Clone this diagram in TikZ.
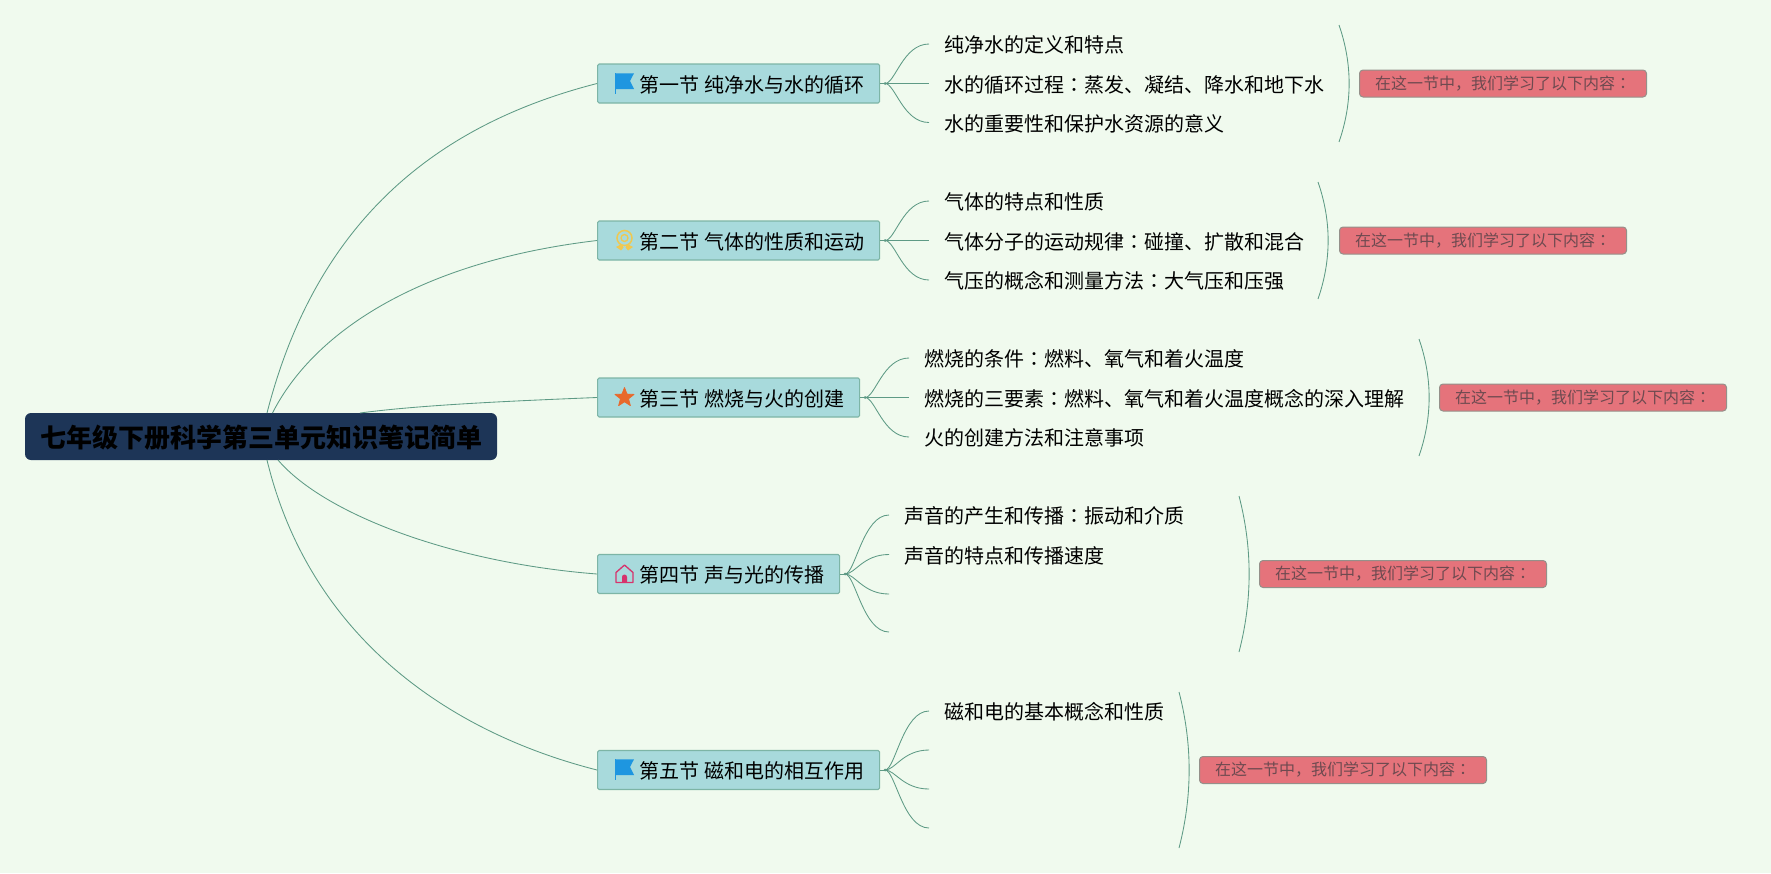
\documentclass[tikz,border=0pt]{standalone}
\usepackage{fontspec}
\setmainfont{Noto Sans CJK SC}
\newfontfamily\tcf{Noto Sans CJK TC}
\newcommand{\cln}{{\tcf ：}}
\newcommand{\wsp}{\hspace{5pt}}
\definecolor{bgc}{HTML}{F0FAEE}
\definecolor{rootc}{HTML}{1D3557}
\definecolor{secc}{HTML}{A8DADC}
\definecolor{secb}{HTML}{7DB5A6}
\definecolor{linkc}{HTML}{5E9A85}
\definecolor{sumc}{HTML}{E5737B}
\definecolor{sumb}{HTML}{95908A}
\definecolor{sumt}{HTML}{6E4A50}
\tikzset{
  x=1pt,y=-1pt,
  rootbox/.style={draw=none,fill=rootc,rounded corners=6pt,minimum width=472pt,minimum height=47pt,inner sep=0pt,text=black,font=\fontsize{26}{30}\selectfont\bfseries,text height=24pt,text depth=2pt},
  secbox/.style={draw=secb,line width=1.1pt,fill=secc,rounded corners=1.5pt,anchor=west,minimum height=39pt,inner ysep=0pt,inner xsep=0pt,text=black,font=\fontsize{20}{24}\selectfont,text height=19pt,text depth=1.5pt},
  leaf/.style={anchor=west,inner sep=0pt,text=black,font=\fontsize{20}{24}\selectfont,text height=19pt,text depth=1.5pt},
  sumbox/.style={draw=sumb,line width=1pt,fill=sumc,rounded corners=3.5pt,anchor=west,minimum height=27pt,inner ysep=0pt,inner xsep=15.5pt,text=sumt,font=\fontsize{16}{20}\selectfont,text height=13pt,text depth=2pt},
  link/.style={draw=linkc,line width=0.85pt},
  jdot/.style={fill=linkc},
  flagicon/.pic={
    \fill[color={rgb,255:red,30;green,150;blue,224}] (-10,-10.7) -- (9,-10.7) -- (5,-3) -- (9,5) -- (-10,5) -- cycle;
    \draw[color={rgb,255:red,30;green,150;blue,224},line width=1pt] (-9.6,-10.7) -- (-9.6,10);
  },
  medalicon/.pic={
    \draw[color={rgb,255:red,240;green,200;blue,80},line width=1.5pt] (0,-2.5) circle[radius=7.5];
    \draw[color={rgb,255:red,240;green,200;blue,80},line width=1.3pt] (0,-2.5) circle[radius=3.5];
    \fill[color={rgb,255:red,240;green,200;blue,80}] (-8.5,6.5) -- (-3,3.5) -- (-1,7) -- (-3.5,10) -- (-5.5,8.5) -- cycle;
    \fill[color={rgb,255:red,240;green,200;blue,80}] (8.5,6.5) -- (3,3.5) -- (1,7) -- (3.5,10) -- (5.5,8.5) -- cycle;
  },
  staricon/.pic={
    \fill[color={rgb,255:red,232;green,105;blue,44},draw={rgb,255:red,232;green,105;blue,44},line join=round,line width=0.8pt]
      (-90:10) -- (-54:4.2) -- (-18:10) -- (18:4.2) -- (54:10) -- (90:4.2) -- (126:10) -- (162:4.2) -- (198:10) -- (234:4.2) -- cycle;
  },
  houseicon/.pic={
    \draw[color={rgb,255:red,214;green,51;blue,108},line width=1.3pt,line join=round] (-8.5,-1.5) -- (0,-9) -- (8.5,-1.5) -- (8.5,8.5) -- (-8.5,8.5) -- cycle;
    \fill[color={rgb,255:red,214;green,51;blue,108}] (-2.5,8.5) -- (-2.5,3) arc[start angle=180,end angle=360,radius=2.5] -- (2.5,8.5) -- cycle;
  }
}
\begin{document}
\begin{tikzpicture}
\useasboundingbox (0,0) rectangle (1771,873);
\fill[bgc] (0,0) rectangle (1771,873);
% root
\node[rootbox] (root) at (261,436.5) {七年级下册科学第三单元知识笔记简单};
% sections
\node[secbox] (s1) at (597,83.5) {\hspace{41.5pt}第一节\wsp 纯净水与水的循环\hspace{15.5pt}\null};
\node[secbox] (s2) at (597,240.5) {\hspace{41.5pt}第二节\wsp 气体的性质和运动\hspace{15.5pt}\null};
\node[secbox] (s3) at (597,397.5) {\hspace{41.5pt}第三节\wsp 燃烧与火的创建\hspace{15.5pt}\null};
\node[secbox] (s4) at (597,574) {\hspace{41.5pt}第四节\wsp 声与光的传播\hspace{15.5pt}\null};
\node[secbox] (s5) at (597,770) {\hspace{41.5pt}第五节\wsp 磁和电的相互作用\hspace{15.5pt}\null};
\pic at (625,84) {flagicon};
\pic at (624.5,240.5) {medalicon};
\pic at (624.5,397.5) {staricon};
\pic at (624.5,574) {houseicon};
\pic at (625,770) {flagicon};
% leaves
\node[leaf] (a1) at (929,44) {\hspace{15.5pt}纯净水的定义和特点};
\node[leaf] (a2) at (929,83.5) {\hspace{15.5pt}水的循环过程\cln 蒸发、凝结、降水和地下水};
\node[leaf] (a3) at (929,122.5) {\hspace{15.5pt}水的重要性和保护水资源的意义};
\node[leaf] (b1) at (929,201) {\hspace{15.5pt}气体的特点和性质};
\node[leaf] (b2) at (929,240.5) {\hspace{15.5pt}气体分子的运动规律\cln 碰撞、扩散和混合};
\node[leaf] (b3) at (929,280) {\hspace{15.5pt}气压的概念和测量方法\cln 大气压和压强};
\node[leaf] (c1) at (909,358) {\hspace{15.5pt}燃烧的条件\cln 燃料、氧气和着火温度};
\node[leaf] (c2) at (909,397.5) {\hspace{15.5pt}燃烧的三要素\cln 燃料、氧气和着火温度概念的深入理解};
\node[leaf] (c3) at (909,437) {\hspace{15.5pt}火的创建方法和注意事项};
\node[leaf] (d1) at (889,515) {\hspace{15.5pt}声音的产生和传播\cln 振动和介质};
\node[leaf] (d2) at (889,554.5) {\hspace{15.5pt}声音的特点和传播速度};
\coordinate (d3) at (889,594);
\coordinate (d4) at (889,632);
\node[leaf] (e1) at (929,711) {\hspace{15.5pt}磁和电的基本概念和性质};
\coordinate (e2) at (929,750);
\coordinate (e3) at (929,789);
\coordinate (e4) at (929,828);
% summaries
\node[sumbox] (u1) at (1359,83.5) {在这一节中，我们学习了以下内容\cln};
\node[sumbox] (u2) at (1339,240.5) {在这一节中，我们学习了以下内容\cln};
\node[sumbox] (u3) at (1439,397.5) {在这一节中，我们学习了以下内容\cln};
\node[sumbox] (u4) at (1259,574) {在这一节中，我们学习了以下内容\cln};
\node[sumbox] (u5) at (1199,770) {在这一节中，我们学习了以下内容\cln};
% root connectors
\coordinate (r1) at (267,413);
\coordinate (r2) at (272.5,413);
\coordinate (r3) at (360,413);
\coordinate (r4) at (278,460);
\coordinate (r5) at (267,460);
\draw[link] (r1) .. controls (316,222) and (435,125) .. (s1.west);
\draw[link] (r2) .. controls (312,335) and (415,262) .. (s2.west);
\draw[link] (r3) .. controls (420,405) and (510,401) .. (s3.west);
\draw[link] (r4) .. controls (325,515) and (455,563) .. (s4.west);
\draw[link] (r5) .. controls (308,630) and (440,730) .. (s5.west);
% section branches
\foreach \s/\list in {s1/{a1,a2,a3},s2/{b1,b2,b3},s3/{c1,c2,c3},s4/{d1,d2,d3,d4},s5/{e1,e2,e3,e4}}{
  \coordinate (j) at ([xshift=5pt]\s.east);
  \draw[link] (\s.east) -- (j);
  \fill[jdot] (j) circle[radius=1.5];
  \foreach \t in \list {
    \draw[link] (j) .. controls +(10,0) and +(-26,0) .. (\t.west);
  }
}
% brackets
\coordinate (k1a) at (1339,25);  \coordinate (k1b) at (1339,142);
\coordinate (k2a) at (1318,182); \coordinate (k2b) at (1318,299);
\coordinate (k3a) at (1419,339); \coordinate (k3b) at (1419,456);
\coordinate (k4a) at (1239,496); \coordinate (k4b) at (1239,652);
\coordinate (k5a) at (1179,692); \coordinate (k5b) at (1179,848);
\foreach \k in {k1,k2,k3}{
  \draw[link] (\k a) .. controls +(13.5,39) and +(13.5,-39) .. (\k b);
}
\foreach \k in {k4,k5}{
  \draw[link] (\k a) .. controls +(13.5,52) and +(13.5,-52) .. (\k b);
}
\end{tikzpicture}
\end{document}
